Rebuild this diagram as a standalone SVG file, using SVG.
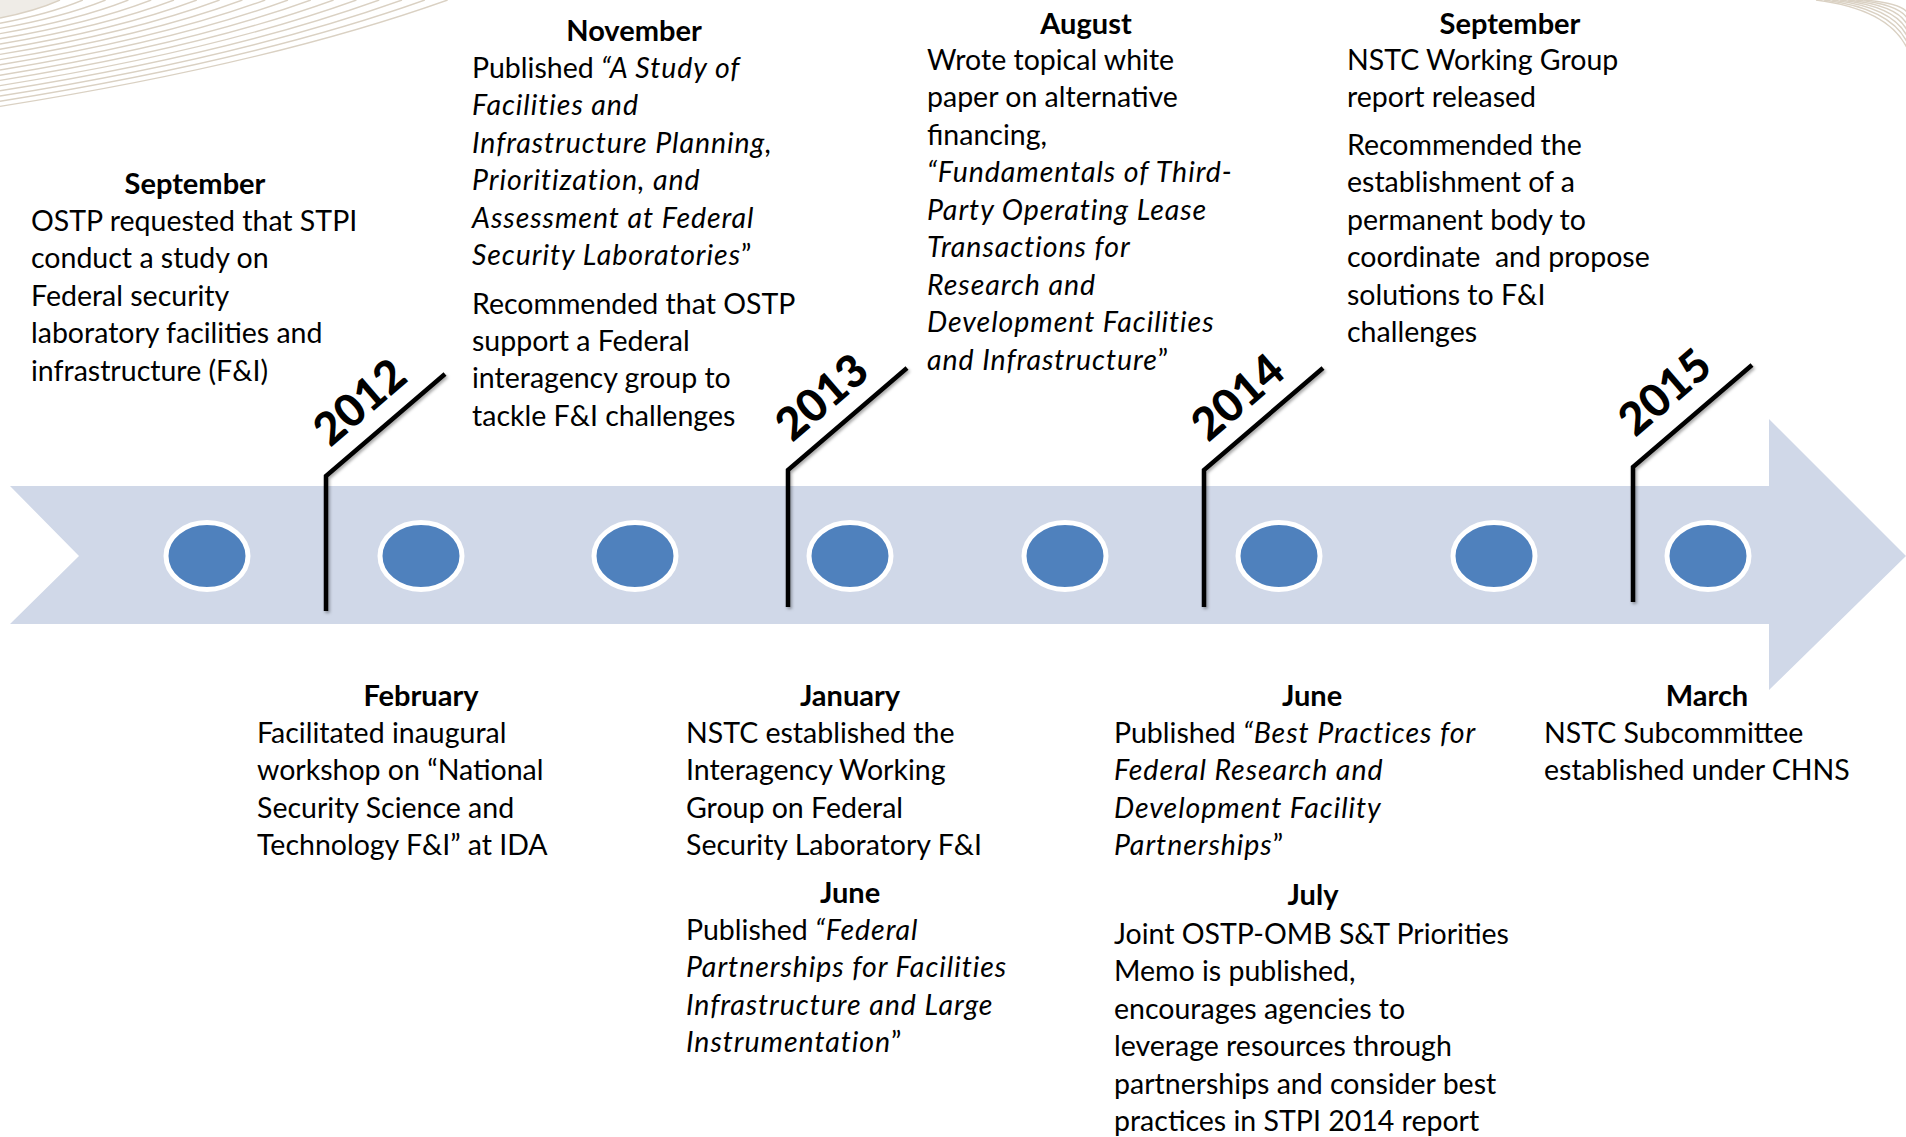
<svg xmlns="http://www.w3.org/2000/svg" width="1906" height="1137" viewBox="0 0 1906 1137">
  <defs>
    <style>
      .txt { font-family: Lato, "Liberation Sans", sans-serif; font-size: 28.5px; fill: #000; }
      .hdr { font-weight: 700; text-anchor: middle; font-size: 29px; }
      .it { font-style: italic; letter-spacing: 0.95px; }
      .yr { font-family: Lato, "Liberation Sans", sans-serif; font-weight: 900; font-size: 45px; fill: #000; text-anchor: middle; }
      .swoosh { fill: none; stroke: #DAD1C3; stroke-width: 1.4; }
      .band { fill: #D0D8E8; }
      .dot { fill: #4F81BD; stroke: #FFFFFF; stroke-width: 5; }
      .leader { fill: none; stroke: #000; stroke-width: 4.5; stroke-linejoin: miter; filter: url(#shadow); }
    </style>
    <filter id="shadow" x="-50%" y="-10%" width="200%" height="130%">
      <feDropShadow dx="1.5" dy="2" stdDeviation="1.5" flood-color="#000" flood-opacity="0.35"/>
    </filter>
  </defs>

  <rect width="1906" height="1137" fill="#FFFFFF"/>

  <!-- background swoosh, top-left corner -->
  <g id="decor-top-left">
    <path d="M0,0 L0,18 Q36,10.8 60,0 Z" fill="#EFECE7"/>
    <path class="swoosh" d="M0,18 Q36,10.8 60,0"/>
    <path class="swoosh" d="M0,23.2 Q49.7,13.9 82.8,0"/>
    <path class="swoosh" d="M0,28.4 Q63.4,17 105.6,0"/>
    <path class="swoosh" d="M0,33.6 Q77,20.2 128.4,0"/>
    <path class="swoosh" d="M0,38.8 Q90.7,23.3 151.2,0"/>
    <path class="swoosh" d="M0,44 Q104.4,26.4 174,0"/>
    <path class="swoosh" d="M0,49.2 Q118.1,29.5 196.8,0"/>
    <path class="swoosh" d="M0,54.4 Q131.8,32.6 219.6,0"/>
    <path class="swoosh" d="M0,59.6 Q145.4,35.8 242.4,0"/>
    <path class="swoosh" d="M0,64.8 Q159.1,38.9 265.2,0"/>
    <path class="swoosh" d="M0,70 Q172.8,42 288,0"/>
    <path class="swoosh" d="M0,75.2 Q186.5,45.1 310.8,0"/>
    <path class="swoosh" d="M0,80.4 Q200.2,48.2 333.6,0"/>
    <path class="swoosh" d="M0,85.6 Q213.8,51.4 356.4,0"/>
    <path class="swoosh" d="M0,90.8 Q227.5,54.5 379.2,0"/>
    <path class="swoosh" d="M0,96 Q241.2,57.6 402,0"/>
    <path class="swoosh" d="M0,101.2 Q254.9,60.7 424.8,0"/>
    <path class="swoosh" d="M0,106.4 Q268.6,63.8 447.6,0"/>
  </g>

  <!-- background swoosh, top-right corner -->
  <g id="decor-top-right">
    <path class="swoosh" d="M1816,0 Q1888,9 1907,48"/>
    <path class="swoosh" d="M1824,0 Q1890,8 1907,42"/>
    <path class="swoosh" d="M1832,0 Q1892,7 1907,36"/>
    <path class="swoosh" d="M1840,0 Q1894,6 1907,30"/>
    <path class="swoosh" d="M1848,0 Q1896,5 1907,24"/>
    <path class="swoosh" d="M1856,0 Q1898,4 1907,18"/>
    <path class="swoosh" d="M1864,0 Q1900,3 1907,12"/>
  </g>

  <!-- timeline arrow -->
  <g id="timeline-arrow">
    <polygon class="band" points="10,486 1769,486 1769,419 1906,556 1769,690 1769,624 10,624 79,556"/>
  </g>

  <!-- event dots on the arrow -->
  <g id="dots">
    <ellipse id="dot-1" class="dot" cx="207" cy="556" rx="41" ry="33.5"/>
    <ellipse id="dot-2" class="dot" cx="421" cy="556" rx="41" ry="33.5"/>
    <ellipse id="dot-3" class="dot" cx="635" cy="556" rx="41" ry="33.5"/>
    <ellipse id="dot-4" class="dot" cx="850" cy="556" rx="41" ry="33.5"/>
    <ellipse id="dot-5" class="dot" cx="1065" cy="556" rx="41" ry="33.5"/>
    <ellipse id="dot-6" class="dot" cx="1279" cy="556" rx="41" ry="33.5"/>
    <ellipse id="dot-7" class="dot" cx="1494" cy="556" rx="41" ry="33.5"/>
    <ellipse id="dot-8" class="dot" cx="1708" cy="556" rx="41" ry="33.5"/>
  </g>

  <!-- year leader lines -->
  <g id="connectors">
    <path class="leader" d="M326,611 L326,476 L445,374"/>
    <path class="leader" d="M788,607 L788,470 L907,368"/>
    <path class="leader" d="M1204,607 L1204,470 L1323,368"/>
    <path class="leader" d="M1633,602 L1633,467 L1752,365"/>
  </g>

  <!-- year labels -->
  <g id="year-2012"><text class="yr" transform="translate(370,414) rotate(-40.6)">2012</text></g>
  <g id="year-2013"><text class="yr" transform="translate(832,409) rotate(-40.6)">2013</text></g>
  <g id="year-2014"><text class="yr" transform="translate(1248,409) rotate(-40.6)">2014</text></g>
  <g id="year-2015"><text class="yr" transform="translate(1675,404) rotate(-40.6)">2015</text></g>

  <!-- events above the arrow -->
  <g id="event-sep-2011" class="txt" transform="translate(0,1.5)">
    <text class="hdr" x="195" y="192">September</text>
    <text x="31" y="229">OSTP requested that STPI</text>
    <text x="31" y="266.5">conduct a study on</text>
    <text x="31" y="304">Federal security</text>
    <text x="31" y="341.5">laboratory facilities and</text>
    <text x="31" y="379">infrastructure (F&amp;I)</text>
  </g>

  <g id="event-nov-2012" class="txt" transform="translate(0,1.5)">
    <text class="hdr" x="634" y="39">November</text>
    <text x="472" y="76">Published <tspan class="it">“A Study of</tspan></text>
    <text x="472" y="113.5" class="it">Facilities and</text>
    <text x="472" y="151" class="it">Infrastructure Planning,</text>
    <text x="472" y="188.5" class="it">Prioritization, and</text>
    <text x="472" y="226" class="it">Assessment at Federal</text>
    <text x="472" y="263.5"><tspan class="it">Security Laboratories</tspan>”</text>
    <text x="472" y="312">Recommended that OSTP</text>
    <text x="472" y="349.5">support a Federal</text>
    <text x="472" y="386.5">interagency group to</text>
    <text x="472" y="424">tackle F&amp;I challenges</text>
  </g>

  <g id="event-aug-2013" class="txt" transform="translate(0,1.5)">
    <text class="hdr" x="1086" y="32">August</text>
    <text x="927" y="68">Wrote topical white</text>
    <text x="927" y="105.5">paper on alternative</text>
    <text x="927" y="143">financing,</text>
    <text x="927" y="180.5" class="it">“Fundamentals of Third-</text>
    <text x="927" y="218" class="it">Party Operating Lease</text>
    <text x="927" y="255.5" class="it">Transactions for</text>
    <text x="927" y="293" class="it">Research and</text>
    <text x="927" y="330.5" class="it">Development Facilities</text>
    <text x="927" y="368"><tspan class="it">and Infrastructure</tspan>”</text>
  </g>

  <g id="event-sep-2014" class="txt" transform="translate(0,1.5)">
    <text class="hdr" x="1510" y="32">September</text>
    <text x="1347" y="68">NSTC Working Group</text>
    <text x="1347" y="105.5">report released</text>
    <text x="1347" y="153">Recommended the</text>
    <text x="1347" y="190.5">establishment of a</text>
    <text x="1347" y="228">permanent body to</text>
    <text x="1347" y="265.5" xml:space="preserve">coordinate  and propose</text>
    <text x="1347" y="303">solutions to F&amp;I</text>
    <text x="1347" y="340.5">challenges</text>
  </g>

  <!-- events below the arrow -->
  <g id="event-feb-2012" class="txt" transform="translate(0,1)">
    <text class="hdr" x="421" y="705">February</text>
    <text x="257" y="742">Facilitated inaugural</text>
    <text x="257" y="779">workshop on “National</text>
    <text x="257" y="816.5">Security Science and</text>
    <text x="257" y="853.5">Technology F&amp;I” at IDA</text>
  </g>

  <g id="event-jan-jun-2013" class="txt" transform="translate(0,1)">
    <text class="hdr" x="850" y="705">January</text>
    <text x="686" y="742">NSTC established the</text>
    <text x="686" y="779">Interagency Working</text>
    <text x="686" y="816.5">Group on Federal</text>
    <text x="686" y="853.5">Security Laboratory F&amp;I</text>
    <text class="hdr" x="850" y="902">June</text>
    <text x="686" y="939">Published <tspan class="it">“Federal</tspan></text>
    <text x="686" y="976" class="it">Partnerships for Facilities</text>
    <text x="686" y="1013.5" class="it">Infrastructure and Large</text>
    <text x="686" y="1051"><tspan class="it">Instrumentation</tspan>”</text>
  </g>

  <g id="event-jun-jul-2014" class="txt" transform="translate(0,1)">
    <text class="hdr" x="1312" y="705">June</text>
    <text x="1114" y="742">Published <tspan class="it">“Best Practices for</tspan></text>
    <text x="1114" y="779" class="it">Federal Research and</text>
    <text x="1114" y="816.5" class="it">Development Facility</text>
    <text x="1114" y="853.5"><tspan class="it">Partnerships</tspan>”</text>
    <text class="hdr" x="1313" y="904">July</text>
    <text x="1114" y="942.5">Joint OSTP-OMB S&amp;T Priorities</text>
    <text x="1114" y="980">Memo is published,</text>
    <text x="1114" y="1017.5">encourages agencies to</text>
    <text x="1114" y="1055">leverage resources through</text>
    <text x="1114" y="1092.5">partnerships and consider best</text>
    <text x="1114" y="1130">practices in STPI 2014 report</text>
  </g>

  <g id="event-mar-2015" class="txt" transform="translate(0,1)">
    <text class="hdr" x="1707" y="705">March</text>
    <text x="1544" y="742">NSTC Subcommittee</text>
    <text x="1544" y="779">established under CHNS</text>
  </g>
</svg>
